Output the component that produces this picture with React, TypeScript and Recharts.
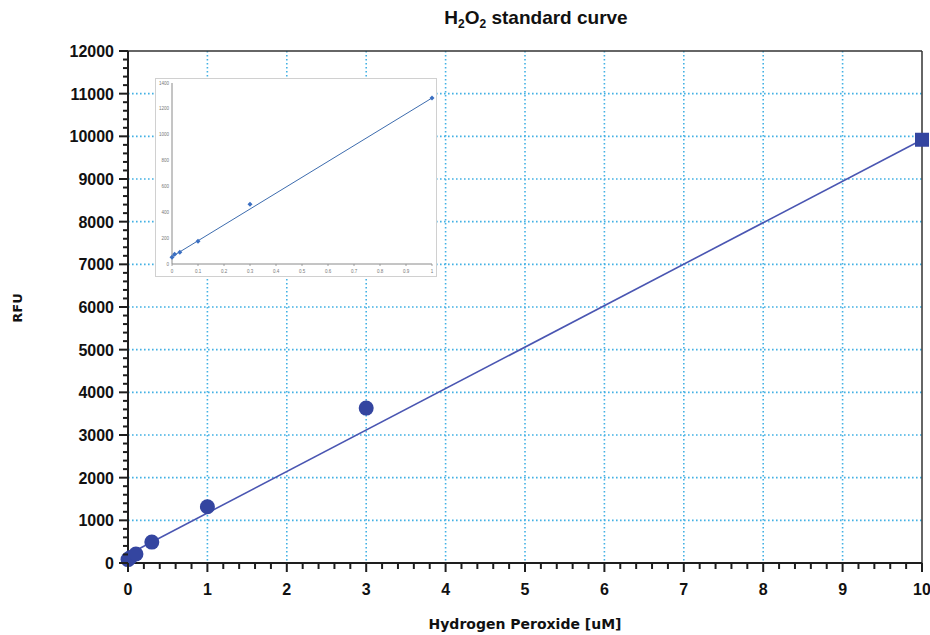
import {
  CartesianGrid,
  ComposedChart,
  Line,
  ReferenceLine,
  Scatter,
  XAxis,
  YAxis,
} from 'recharts';

// main standard curve
const standardConc = [0, 0.03, 0.1, 0.3, 1, 3, 10];
const standardRfu = [80, 130, 210, 490, 1320, 3630, 9920];
const markerShapes = ['circle', 'circle', 'circle', 'circle', 'circle', 'circle', 'square'];

// linear fit line
const fitConc = [0, 10];
const fitRfu = [200, 9920];

// inset (low range) curve
const insetConc = [0, 0.01, 0.03, 0.1, 0.3, 1];
const insetRfu = [52, 75, 90, 176, 462, 1284];
const insetFitConc = [0, 1];
const insetFitRfu = [57, 1284];

const xMajorTicks = [0, 1, 2, 3, 4, 5, 6, 7, 8, 9, 10];
const yMajorTicks = [0, 1000, 2000, 3000, 4000, 5000, 6000, 7000, 8000, 9000, 10000, 11000, 12000];
const insetXTicks = [0, 0.1, 0.2, 0.3, 0.4, 0.5, 0.6, 0.7, 0.8, 0.9, 1];
const insetYTicks = [0, 200, 400, 600, 800, 1000, 1200, 1400];

const xAllTicks = Array.from({ length: 51 }, (_, i) => Math.round(i * 2) / 10);
const yAllTicks = Array.from({ length: 61 }, (_, i) => i * 200);

const standardData = standardConc.map((x, i) => ({ x, y: standardRfu[i], shape: markerShapes[i] }));
const fitData = fitConc.map((x, i) => ({ x, y: fitRfu[i] }));
const insetData = insetConc.map((x, i) => ({ x, y: insetRfu[i] }));
const insetFitData = insetFitConc.map((x, i) => ({ x, y: insetFitRfu[i] }));

const PLOT_LEFT = 128;
const PLOT_BOTTOM = 563;
const AXIS_COLOR = '#1e1e1e';
const GRID_COLOR = '#43b1e4';
const MARKER_COLOR = '#3445a0';
const TICK_FONT = '"Liberation Sans", Arial, sans-serif';

// inset geometry (inside its own svg)
const INSET_LEFT = 16;
const INSET_BOTTOM = 185;

function XTick(props: any) {
  const { payload } = props;
  const x = payload.coordinate;
  const v = payload.value;
  const major = Math.abs(v - Math.round(v)) < 1e-6;
  return (
    <g>
      <line x1={x} y1={PLOT_BOTTOM} x2={x} y2={PLOT_BOTTOM + (major ? 9 : 6)} stroke={AXIS_COLOR} strokeWidth={2} />
      {major && (
        <text x={x} y={PLOT_BOTTOM + 32} textAnchor="middle" fontFamily={TICK_FONT} fontWeight="bold" fontSize={16} fill="#111">
          {Math.round(v)}
        </text>
      )}
    </g>
  );
}

function YTick(props: any) {
  const { payload } = props;
  const y = payload.coordinate;
  const v = payload.value;
  const major = v % 1000 === 0;
  return (
    <g>
      <line x1={PLOT_LEFT} y1={y} x2={PLOT_LEFT - (major ? 9 : 5)} y2={y} stroke={AXIS_COLOR} strokeWidth={2} />
      {major && (
        <text x={PLOT_LEFT - 14} y={y + 6} textAnchor="end" fontFamily={TICK_FONT} fontWeight="bold" fontSize={16} fill="#111">
          {v}
        </text>
      )}
    </g>
  );
}

// tiny labels: draw at 9px and scale down, so no minimum font size kicks in
function InsetXTick(props: any) {
  const { payload } = props;
  const x = payload.coordinate;
  return (
    <g>
      <line x1={x} y1={INSET_BOTTOM} x2={x} y2={INSET_BOTTOM + 2} stroke="#8a8a8a" strokeWidth={0.8} />
      <text
        transform={`translate(${x},${INSET_BOTTOM + 8.5}) scale(0.5)`}
        textAnchor="middle"
        fontFamily={TICK_FONT}
        fontSize={9}
        fill="#777"
      >
        {payload.value}
      </text>
    </g>
  );
}

function InsetYTick(props: any) {
  const { payload } = props;
  const y = payload.coordinate;
  return (
    <text
      transform={`translate(${INSET_LEFT - 3},${y + 1.5}) scale(0.5)`}
      textAnchor="end"
      fontFamily={TICK_FONT}
      fontSize={9}
      fill="#777"
    >
      {payload.value}
    </text>
  );
}

function Marker(props: any) {
  const { cx, cy, payload } = props;
  if (payload.shape === 'square') {
    return <rect x={cx - 7} y={cy - 7} width={14} height={14} fill={MARKER_COLOR} />;
  }
  return <circle cx={cx} cy={cy} r={7.5} fill={MARKER_COLOR} />;
}

function InsetMarker(props: any) {
  const { cx, cy } = props;
  return (
    <polygon
      points={`${cx},${cy - 2.5} ${cx + 2.5},${cy} ${cx},${cy + 2.5} ${cx - 2.5},${cy}`}
      fill="#3b6fc2"
    />
  );
}

function InsetChart() {
  return (
    <div
      style={{
        position: 'absolute',
        left: 155,
        top: 78,
        width: 282,
        height: 199,
        boxSizing: 'border-box',
        border: '1px solid #d0d0d0',
        background: '#fff',
      }}
    >
      <ComposedChart width={280} height={197} margin={{ top: 4, right: 4, bottom: 0, left: 0 }}>
        <XAxis
          dataKey="x"
          type="number"
          domain={[0, 1]}
          ticks={insetXTicks}
          interval={0}
          height={12}
          tick={<InsetXTick />}
          tickLine={false}
          stroke="#8a8a8a"
        />
        <YAxis
          type="number"
          domain={[0, 1400]}
          ticks={insetYTicks}
          interval={0}
          width={INSET_LEFT}
          tick={<InsetYTick />}
          tickLine={false}
          stroke="#8a8a8a"
        />
        <Line data={insetFitData} dataKey="y" stroke="#3d6cae" strokeWidth={1} dot={false} isAnimationActive={false} />
        <Scatter data={insetData} dataKey="y" shape={<InsetMarker />} isAnimationActive={false} />
      </ComposedChart>
    </div>
  );
}

export default function App() {
  return (
    <div style={{ position: 'absolute', left: 0, top: 0, width: 930, height: 635, background: '#fff' }}>
      <ComposedChart width={930} height={635} margin={{ top: 51, right: 8, bottom: 0, left: 0 }}>
        <CartesianGrid
          horizontal
          vertical
          horizontalValues={yMajorTicks.slice(1, -1)}
          verticalValues={xMajorTicks.slice(1, -1)}
          stroke={GRID_COLOR}
          strokeWidth={1.6}
          strokeDasharray="1.6 2.4"
        />
        <XAxis
          dataKey="x"
          type="number"
          domain={[0, 10]}
          ticks={xAllTicks}
          interval={0}
          height={72}
          tick={<XTick />}
          tickLine={false}
          axisLine={{ stroke: AXIS_COLOR, strokeWidth: 2 }}
        />
        <YAxis
          type="number"
          domain={[0, 12000]}
          ticks={yAllTicks}
          interval={0}
          width={128}
          tick={<YTick />}
          tickLine={false}
          axisLine={{ stroke: AXIS_COLOR, strokeWidth: 2 }}
        />
        <ReferenceLine y={12000} stroke="#333" strokeWidth={1.5} />
        <ReferenceLine x={10} stroke="#333" strokeWidth={1.5} />
        <Line data={fitData} dataKey="y" stroke="#4a56b2" strokeWidth={1.6} dot={false} isAnimationActive={false} />
        <Scatter data={standardData} dataKey="y" shape={<Marker />} isAnimationActive={false} />
      </ComposedChart>

      <InsetChart />

      <div
        style={{
          position: 'absolute',
          left: 336,
          width: 400,
          top: 7,
          textAlign: 'center',
          fontFamily: TICK_FONT,
          fontWeight: 'bold',
          fontSize: 19,
          color: '#111',
          lineHeight: '22px',
        }}
      >
        H<sub style={{ fontSize: 12, verticalAlign: -4 }}>2</sub>O<sub style={{ fontSize: 12, verticalAlign: -4 }}>2</sub> standard curve
      </div>

      <div
        style={{
          position: 'absolute',
          left: 17,
          top: 308,
          transform: 'translate(-50%, -50%) rotate(-90deg)',
          fontFamily: '"DejaVu Sans", sans-serif',
          fontWeight: 'bold',
          fontSize: 13,
          color: '#111',
          whiteSpace: 'nowrap',
        }}
      >
        RFU
      </div>

      <div
        style={{
          position: 'absolute',
          left: 325,
          width: 400,
          top: 615,
          textAlign: 'center',
          fontFamily: '"DejaVu Sans", sans-serif',
          fontWeight: 'bold',
          fontSize: 14,
          color: '#111',
          lineHeight: '18px',
        }}
      >
        Hydrogen Peroxide [uM]
      </div>
    </div>
  );
}
